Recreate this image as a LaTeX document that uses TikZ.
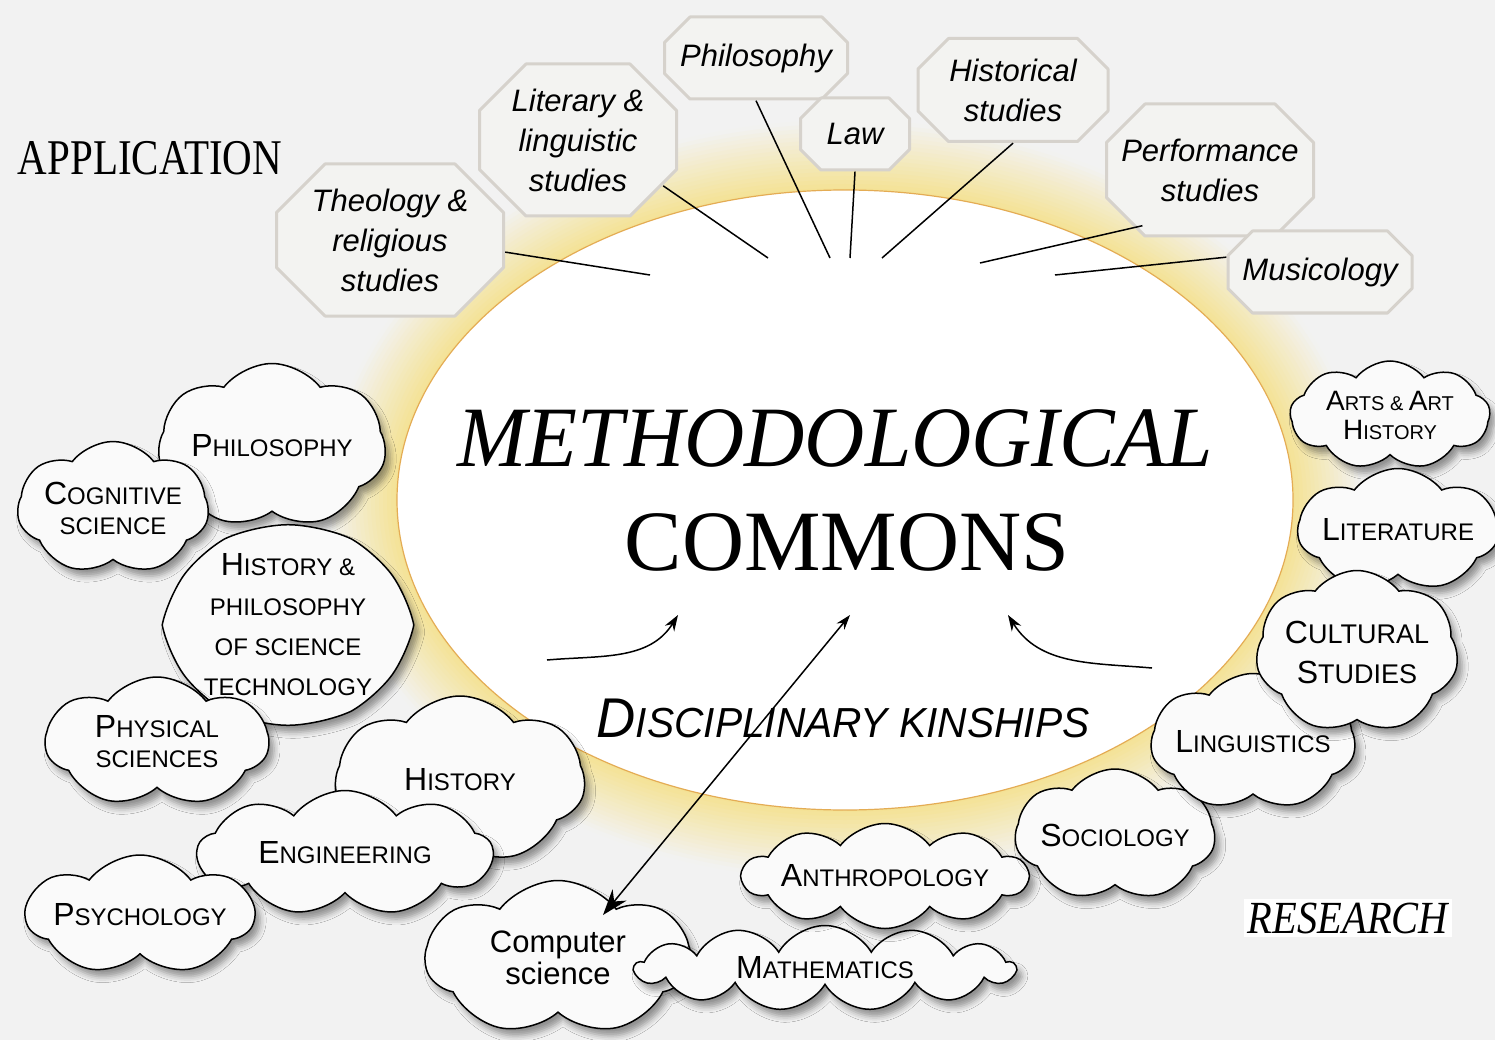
\documentclass[tikz,border=0pt]{standalone}
\usepackage{fontspec}
\setmainfont{Liberation Sans}
\newfontfamily\titlefont{Liberation Serif}
\usetikzlibrary{shapes.symbols,shadows.blur,arrows.meta}

\definecolor{bgcol}{RGB}{242,242,242}
\definecolor{halo}{RGB}{244,226,146}
\definecolor{rimcol}{RGB}{228,172,84}
\definecolor{octline}{RGB}{214,210,204}
\definecolor{octfill}{RGB}{243,243,241}
\definecolor{puff}{RGB}{250,250,250}

\newcommand\ini[1]{{\fontsize{32}{30}\selectfont #1}}

\tikzset{
  chamf/.store in=\octcut, chamf=20pt,
  octedge/.style={draw=octline, line width=3pt, fill=octfill, line join=round},
  octa/.style={inner sep=0pt, align=center, font=\fontsize{31}{40}\selectfont\itshape,
    path picture={
      \draw[octedge] ([xshift=\octcut, yshift=-1.5pt]path picture bounding box.north west)
        -- ([xshift=-\octcut, yshift=-1.5pt]path picture bounding box.north east)
        -- ([xshift=-1.5pt, yshift=-\octcut]path picture bounding box.north east)
        -- ([xshift=-1.5pt, yshift=\octcut]path picture bounding box.south east)
        -- ([xshift=-\octcut, yshift=1.5pt]path picture bounding box.south east)
        -- ([xshift=\octcut, yshift=1.5pt]path picture bounding box.south west)
        -- ([xshift=1.5pt, yshift=\octcut]path picture bounding box.south west)
        -- ([xshift=1.5pt, yshift=-\octcut]path picture bounding box.north west) -- cycle;}},
  bubble/.style={cloud, cloud puffs=7, cloud puff arc=105, cloud ignores aspect, draw, line width=1.5pt, fill=puff, inner sep=0pt, align=center, font=\fontsize{24}{30}\selectfont, blur shadow={shadow xshift=5pt, shadow yshift=-7pt, shadow blur radius=6pt, shadow opacity=40}},
  spoke/.style={line width=1.5pt},
  kin/.style={line width=1.5pt, -{Stealth[length=16pt,width=11pt]}},
}

\begin{document}
\begin{tikzpicture}[x=1pt,y=-1pt]
\fill[bgcol] (0,0) rectangle (1495,1040);
\useasboundingbox (0,0) rectangle (1495,1040);

% glow round the commons
\coordinate (mid) at (845,500);
\foreach \k [evaluate=\k as \p using 100-1.4*\k] in {70,66,...,2}
  \fill[halo!\p!bgcol] (mid) ellipse ({448+\k} and {310+\k});
\fill[white, draw=rimcol, line width=1.2pt] (mid) ellipse (448 and 310);

\node[font=\titlefont\fontsize{86}{86}\selectfont\itshape, xscale=0.97] (meth) at (835,438) {METHODOLOGICAL};
\node[font=\titlefont\fontsize{86}{86}\selectfont] (comm) at (847,542) {COMMONS};
\node[anchor=base, font=\fontsize{42}{42}\selectfont\itshape, xscale=0.97] (kinship) at (843,737) {{\fontsize{56}{56}\selectfont D}ISCIPLINARY KINSHIPS};
\node[anchor=base, font=\titlefont\fontsize{50}{50}\selectfont, xscale=0.82] (appl) at (150,175) {APPLICATION};
\node[anchor=base, fill=white, inner sep=4pt, font=\titlefont\fontsize{46}{46}\selectfont\itshape, xscale=0.88] (resr) at (1348,933) {RESEARCH};

% humanities octagons
\node[octa, chamf=50pt, minimum width=230, minimum height=155] (theo) at (390,240) {Theology \&\\religious\\studies};
\node[octa, chamf=48pt, minimum width=200, minimum height=155] (litling) at (578,140) {Literary \&\\linguistic\\studies};
\node[octa, chamf=27pt, minimum width=186, minimum height=85] (philos) at (756,58) {Philosophy};
\node[octa, chamf=22pt, minimum width=112, minimum height=75] (law) at (855,134) {Law};
\node[octa, chamf=32pt, minimum width=193, minimum height=106] (histst) at (1013,90) {Historical\\studies};
\node[octa, chamf=40pt, minimum width=210, minimum height=135] (perf) at (1210,170) {Performance\\studies};
\node[octa, chamf=26pt, minimum width=187, minimum height=85] (music) at (1320,272) {Musicology};

\coordinate (s1) at (650,275);
\coordinate (s2) at (768,258);
\coordinate (s3) at (830,258);
\coordinate (s4) at (850,258);
\coordinate (s5) at (882,258);
\coordinate (s6) at (980,263);
\coordinate (s7) at (1055,275);
\draw[spoke] (theo.-6) -- (s1);
\draw[spoke] ([xshift=-15pt,yshift=12pt]litling.-30) -- (s2);
\draw[spoke] (philos.south) -- (s3);
\draw[spoke] (law.south) -- (s4);
\draw[spoke] (histst.south) -- (s5);
\draw[spoke] ([xshift=16pt,yshift=12pt]perf.-141) -- (s6);
\draw[spoke] (music.171) -- (s7);

% disciplines
\node[bubble, minimum width=228, minimum height=165] (philo) at (272,446) {\ini{P}HILOSOPHY};
\node[bubble, minimum width=178, minimum height=133] (cogsci) at (113,508) {\ini{C}OGNITIVE\\SCIENCE};
\node[bubble, cloud puffs=6, cloud puff arc=50, minimum width=240, minimum height=178] (hps) at (288,625) {\ini{H}ISTORY \&\\[10pt]PHILOSOPHY\\[10pt]OF SCIENCE\\[10pt]TECHNOLOGY};
\node[bubble, minimum width=223, minimum height=130] (physci) at (157,742) {\ini{P}HYSICAL\\SCIENCES};
\node[bubble, minimum width=250, minimum height=168] (histo) at (460,780) {\ini{H}ISTORY};
\node[bubble, cloud puffs=9, minimum width=295, minimum height=125] (engin) at (345,853) {\ini{E}NGINEERING};
\node[bubble, minimum width=215, minimum height=120] (psych) at (140,915) {\ini{P}SYCHOLOGY};
\node[bubble, font=\fontsize{31}{32}\selectfont, minimum width=265, minimum height=155] (compsci) at (558,958) {Computer\\science};
\node[bubble, cloud puffs=13, cloud puff arc=120, minimum width=380, minimum height=85] (maths) at (825,968) {\ini{M}ATHEMATICS};
\node[bubble, cloud puffs=10, minimum width=260, minimum height=105] (anthro) at (885,876) {\ini{A}NTHROPOLOGY};
\node[bubble, minimum width=200, minimum height=132] (socio) at (1115,835) {\ini{S}OCIOLOGY};
\node[bubble, cloud puffs=9, font=\fontsize{20}{29}\selectfont, minimum width=200, minimum height=108] (arts) at (1390,415) {{\fontsize{28}{29}\selectfont A}RTS \& {\fontsize{28}{29}\selectfont A}RT\\{\fontsize{28}{29}\selectfont H}ISTORY};
\node[bubble, minimum width=189, minimum height=123] (litr) at (1398,530) {\ini{L}ITERATURE};
\node[bubble, minimum width=190, minimum height=137] (ling) at (1253,742) {\ini{L}INGUISTICS};
\node[bubble, font=\fontsize{27}{30}\selectfont, minimum width=181, minimum height=163] (cult) at (1357,652) {\ini{C}ULTURAL\\[10pt]\ini{S}TUDIES};

% kinship arrows
\coordinate (kl0) at (547,660);
\coordinate (kl1) at (678,615);
\coordinate (kr0) at (1152,668);
\coordinate (kr1) at (1008,615);
\coordinate (kc0) at (603,915);
\coordinate (kc1) at (850,615);
\draw[kin] (kl0) to[out=5,in=-122] (kl1);
\draw[kin] (kr0) to[out=175,in=-58] (kr1);
\draw[line width=1.5pt, {Stealth[length=26pt,width=18pt]}-{Stealth[length=15pt,width=10pt]}] (kc0) -- (kc1);
\end{tikzpicture}
\end{document}
